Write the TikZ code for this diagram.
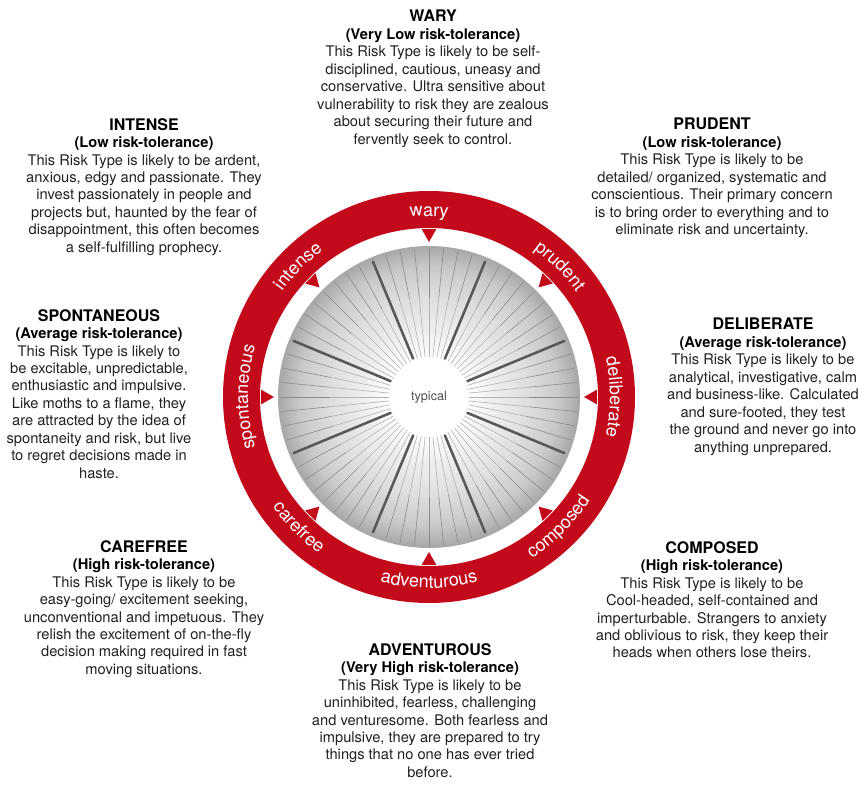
\documentclass[tikz,border=0pt]{standalone}
\usepackage{fontspec}
\setmainfont{TeX Gyre Heros}
\usepackage{tikz}
\usetikzlibrary{decorations.text}

\newcommand{\ringfont}{\color{white}\fontsize{13.5}{16}\selectfont}
\newcommand{\riskhead}[1]{{\fontsize{12}{13.1}\selectfont\bfseries\color{black}#1}}
\newcommand{\risklevel}[1]{{\bfseries\color{black}#1}}

\begin{document}
\begin{tikzpicture}[x=0.75pt,y=0.75pt,yscale=-1,xscale=1,
  riskbox/.style={anchor=north, align=center, inner sep=0pt, font=\fontsize{11}{13.1}\selectfont, text={rgb, 255:red, 35; green, 31; blue, 32}},
  ringfill/.style={fill={rgb, 255:red, 194; green, 10; blue, 27}},
  ringlabel/.style={decorate, decoration={text along path, text={|\ringfont|#1}, text align=center}},
  thinspoke/.style={draw={rgb, 255:red, 178; green, 178; blue, 178}, line width=0.45pt},
  thinspokeouter/.style={draw={rgb, 255:red, 140; green, 140; blue, 140}, line width=0.45pt},
  thickspoke/.style={draw={rgb, 255:red, 88; green, 88; blue, 88}, line width=1.9pt}]
\useasboundingbox (0,0) rectangle (866,789);

\begin{scope}[shift={(429,397)}, yscale=-1]
%Shape: Ring
\fill[ringfill, even odd rule] (0,0) circle[radius=206] (0,0) circle[radius=169];
%Shape: Ring teeth
\foreach \a in {0,45,...,315}
  \fill[ringfill] (\a+2.5:168) -- (\a:155) -- (\a-2.5:168) -- cycle;
%Shape: Disc, light towards the hub
\foreach \r in {151,149.5,...,38} {
  \pgfmathsetmacro\k{\r<39 ? 0 : (\r<69 ? (\r-39)/30*7 : (\r<100 ? 7+(\r-69)/31*6 : (\r<130 ? 13+(\r-100)/30*8 : 21+(\r-130)/21*13)))}
  \fill[black!\k] (0,0) circle[radius=\r];
}
%Straight Lines: spokes
\foreach \a in {0,5.625,...,354.4} {
  \draw[thinspoke] (\a:40) -- (\a:100);
  \draw[thinspokeouter] (\a:100) -- (\a:149);
}
\foreach \a in {22.5,67.5,...,337.5}
  \draw[thickspoke] (\a:41) -- (\a:147);
% Text Node
\node[circle, fill=white, minimum size=51pt, inner sep=0pt, font=\fontsize{9.5}{11}\selectfont, text={rgb, 255:red, 80; green, 80; blue, 80}] (typical) at (0,0) {typical};

%Ring labels, upper half
\path[ringlabel=intense] (180:181) arc[start angle=180, end angle=90, radius=181];
\path[ringlabel=wary] (135:181) arc[start angle=135, end angle=45, radius=181];
\path[ringlabel=prudent] (90:181) arc[start angle=90, end angle=0, radius=181];
\path[ringlabel=deliberate] (45:181) arc[start angle=45, end angle=-45, radius=181];
\path[ringlabel=spontaneous] (225:181) arc[start angle=225, end angle=135, radius=181];
%Ring labels, lower half
\path[ringlabel=composed] (-90:191) arc[start angle=-90, end angle=0, radius=191];
\path[ringlabel=adventurous] (-135:191) arc[start angle=-135, end angle=-45, radius=191];
\path[ringlabel=carefree] (-180:191) arc[start angle=-180, end angle=-90, radius=191];
\end{scope}

% Text Node
\node[riskbox] (wary) at (433,10) {\riskhead{WARY}\\
  \risklevel{(Very Low risk-tolerance)}\\
  This Risk Type is likely to be self-\\
  disciplined, cautious, uneasy and\\
  conservative. Ultra sensitive about\\
  vulnerability to risk they are zealous\\
  about securing their future and\\
  fervently seek to control.};
% Text Node
\node[riskbox] (intense) at (144,118) {\riskhead{INTENSE}\\
  \risklevel{(Low risk-tolerance)}\\
  This Risk Type is likely to be ardent,\\
  anxious, edgy and passionate. They\\
  invest passionately in people and\\
  projects but, haunted by the fear of\\
  disappointment, this often becomes\\
  a self-fulfilling prophecy.};
% Text Node
\node[riskbox] (prudent) at (712,118) {\riskhead{PRUDENT}\\
  \risklevel{(Low risk-tolerance)}\\
  This Risk Type is likely to be\\
  detailed/ organized, systematic and\\
  conscientious. Their primary concern\\
  is to bring order to everything and to\\
  eliminate risk and uncertainty.};
% Text Node
\node[riskbox] (spontaneous) at (99,309) {\riskhead{SPONTANEOUS}\\
  \risklevel{(Average risk-tolerance)}\\
  This Risk Type is likely to\\
  be excitable, unpredictable,\\
  enthusiastic and impulsive.\\
  Like moths to a flame, they\\
  are attracted by the idea of\\
  spontaneity and risk, but live\\
  to regret decisions made in\\
  haste.};
% Text Node
\node[riskbox] (deliberate) at (763,318) {\riskhead{DELIBERATE}\\
  \risklevel{(Average risk-tolerance)}\\
  This Risk Type is likely to be\\
  analytical, investigative, calm\\
  and business-like. Calculated\\
  and sure-footed, they test\\
  the ground and never go into\\
  anything unprepared.};
% Text Node
\node[riskbox] (carefree) at (144,540) {\riskhead{CAREFREE}\\
  \risklevel{(High risk-tolerance)}\\
  This Risk Type is likely to be\\
  easy-going/ excitement seeking,\\
  unconventional and impetuous. They\\
  relish the excitement of on-the-fly\\
  decision making required in fast\\
  moving situations.};
% Text Node
\node[riskbox] (composed) at (712,541) {\riskhead{COMPOSED}\\
  \risklevel{(High risk-tolerance)}\\
  This Risk Type is likely to be\\
  Cool-headed, self-contained and\\
  imperturbable. Strangers to anxiety\\
  and oblivious to risk, they keep their\\
  heads when others lose theirs.};
% Text Node
\node[riskbox] (adventurous) at (430,643) {\riskhead{ADVENTUROUS}\\
  \risklevel{(Very High risk-tolerance)}\\
  This Risk Type is likely to be\\
  uninhibited, fearless, challenging\\
  and venturesome. Both fearless and\\
  impulsive, they are prepared to try\\
  things that no one has ever tried\\
  before.};

\end{tikzpicture}
\end{document}
